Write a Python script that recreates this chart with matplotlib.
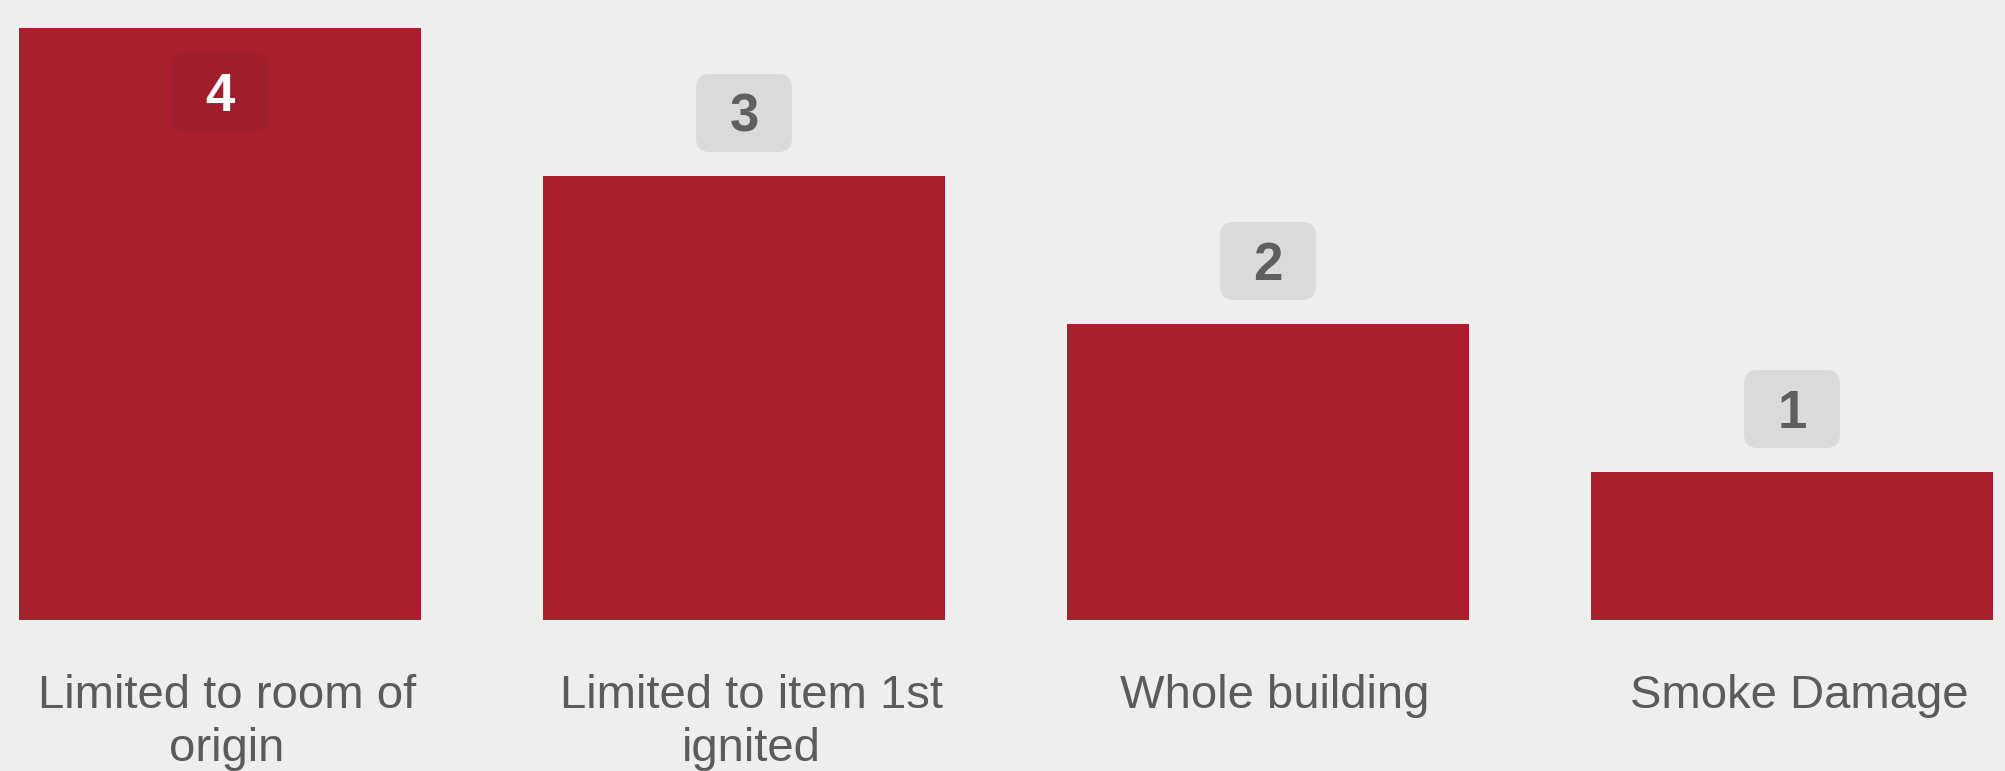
import matplotlib.pyplot as plt
from matplotlib.patches import FancyBboxPatch
from matplotlib.transforms import IdentityTransform

categories = ['Limited to room of\norigin', 'Limited to item 1st\nignited',
              'Whole building', 'Smoke Damage']
counts = [4, 3, 2, 1]

bg = '#eeeeee'
bar_color = '#aa1f2e'
text_grey = '#5b5b5b'

W, H = 2006, 771
fig = plt.figure(figsize=(W / 100, H / 100), dpi=100, facecolor=bg)
# plot area: bars sit on y=620px (from top), tallest bar reaches y=28px
ax = fig.add_axes([0, (H - 620) / H, 1, 592 / H])
ax.set_facecolor(bg)

step = 524.0
x0 = 220.0
ax.set_xlim(-x0 / step, (W - x0) / step)
ax.set_ylim(0, max(counts))

xs = range(len(counts))
ax.bar(xs, counts, width=402 / step, color=bar_color)

ax.axis('off')

# value badges: above the bar, or inside when there is no room
box_w, box_h = 96, 78
for i, v in zip(xs, counts):
    px, py = ax.transData.transform((i, v))
    if v == max(counts):
        cy = py - 64
        fc, tc = '#9e1f2b', 'white'
    else:
        cy = py + 63
        fc, tc = '#dadada', '#5f5f5f'
    box = FancyBboxPatch((px - box_w / 2, cy - box_h / 2), box_w, box_h,
                         boxstyle='round,pad=0,rounding_size=14',
                         fc=fc, ec='none', transform=IdentityTransform())
    fig.patches.append(box)
    fig.text(px, cy - 19, str(v), transform=IdentityTransform(),
             ha='center', va='baseline', fontsize=38, fontweight='heavy',
             family='Liberation Sans', color=tc)

# category labels under bars
for i, lab in zip(xs, categories):
    px, _ = ax.transData.transform((i, 0))
    lines = lab.split('\n')
    for k, line in enumerate(lines):
        fig.text(px + 7, H - 708 - 53 * k, line, transform=IdentityTransform(),
                 ha='center', va='baseline', fontsize=34, family='Liberation Sans',
                 color=text_grey)

fig.savefig('out.png', dpi=100, facecolor=bg)
